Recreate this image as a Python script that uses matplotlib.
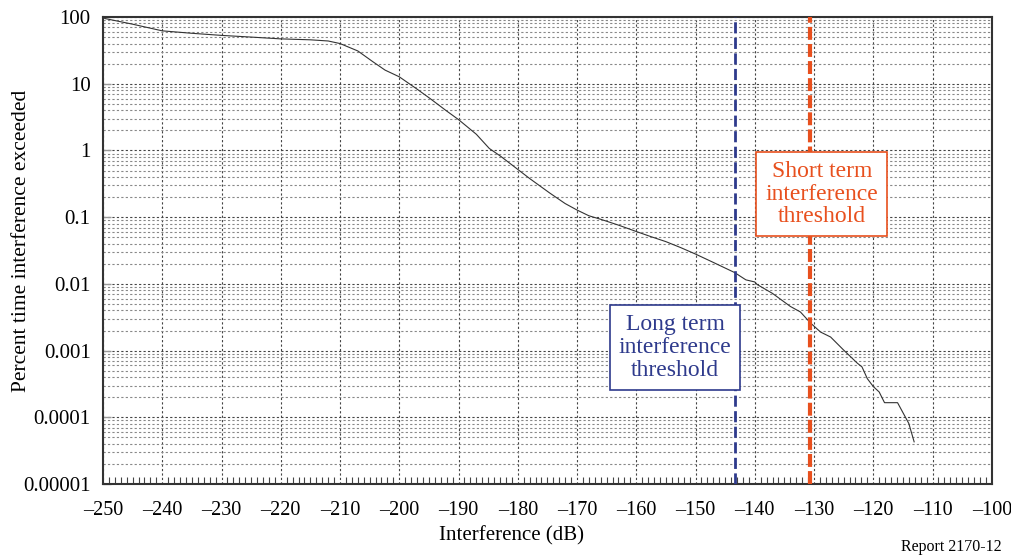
import matplotlib
matplotlib.use("Agg")
import matplotlib.pyplot as plt
from matplotlib.ticker import FixedLocator, FixedFormatter, MultipleLocator, LogLocator

plt.rcParams['font.family'] = ['Liberation Serif', 'DejaVu Serif']

# curve
interference = [-250, -249.7, -245, -240, -235, -230, -225, -220, -215, -212, -210,
                -207, -204.5, -202.4, -200, -197, -194.8, -192, -190, -187, -184.8, -182.9,
                -180, -178, -174.6, -172, -170, -168, -166, -163, -160, -157.5,
                -155, -152.5, -150, -147, -143.4, -141.5, -140, -139.6, -137,
                -134, -132.3, -130.6, -128.9, -127.2, -125, -122.7, -121.9, -121,
                -120, -119, -118.1, -115.9, -114, -113.1]
percent = [100, 95, 78, 62, 57, 53, 50, 47, 45.5, 43.7, 40,
           31, 21.5, 16, 12.7, 8.3, 6.0, 3.9, 2.9, 1.75, 1.07, 0.82,
           0.52, 0.38, 0.23, 0.16, 0.128, 0.105, 0.093, 0.076, 0.061, 0.051,
           0.043, 0.035, 0.028, 0.021, 0.0148, 0.0115, 0.0107, 0.0098, 0.0072,
           0.0046, 0.0038, 0.0026, 0.0019, 0.0016, 0.00102, 0.00065, 0.00057, 0.00038,
           0.00029, 0.00024, 0.000166, 0.000166, 0.000081, 0.000043]

long_term = -143.4
short_term = -130.6

xticks = list(range(-250, -99, 10))
xlabels = ['\u2013' + str(abs(v)) for v in xticks]
yticks = [100, 10, 1, 0.1, 0.01, 0.001, 0.0001, 0.00001]
ylabels = ['100', '10', '1', '0.1', '0.01', '0.001', '0.0001', '0.00001']

blue = '#2E3A8C'
orange = '#E8501E'

fig = plt.figure(figsize=(10.12, 5.59), dpi=100)
ax = fig.add_axes([0.1018, 0.134, 0.8782, 0.8356])

ax.set_yscale('log')
ax.set_xlim(-250, -100)
ax.set_ylim(0.00001, 100)

ax.plot(interference, percent, color='#333333', lw=0.8, zorder=3)

ax.axvline(long_term, color=blue, lw=2.0, ls=(0, (4.0, 1.6)), zorder=4)
ax.axvline(short_term, color=orange, lw=3.0, ls=(0, (3.1, 1.0)), zorder=4)

ax.text(-153.45, 0.00112, 'Long term\ninterference\nthreshold', ha='center', va='center',
        fontsize=17, color=blue, linespacing=1.12, zorder=5,
        bbox=dict(boxstyle='square,pad=0.38', fc='white', ec=blue, lw=1.2))
ax.text(-128.7, 0.222, 'Short term\ninterference\nthreshold', ha='center', va='center',
        fontsize=17, color=orange, linespacing=1.12, zorder=5,
        bbox=dict(boxstyle='square,pad=0.38', fc='white', ec=orange, lw=1.2))

ax.xaxis.set_major_locator(FixedLocator(xticks))
ax.xaxis.set_major_formatter(FixedFormatter(xlabels))
ax.xaxis.set_minor_locator(MultipleLocator(1))
ax.yaxis.set_major_locator(FixedLocator(yticks))
ax.yaxis.set_major_formatter(FixedFormatter(ylabels))
ax.yaxis.set_minor_locator(LogLocator(base=10, subs=range(2, 10), numticks=20))
ax.yaxis.set_minor_formatter(FixedFormatter([]))

ax.grid(which='major', axis='both', ls=(0, (2, 2)), lw=0.8, color='#444444')
ax.grid(which='minor', axis='y', ls=(0, (2, 2)), lw=0.8, color='#888888')

ax.tick_params(axis='x', which='major', direction='in', length=0, labelsize=14.5, pad=12)
ax.tick_params(axis='x', which='minor', direction='in', length=5, width=0.8, color='#444444',
               top=False)
ax.tick_params(axis='y', which='major', direction='in', length=6, width=1, color='#999999',
               labelsize=15, pad=9)
ax.tick_params(axis='y', which='minor', length=0)

for s in ax.spines.values():
    s.set_color('#333333')
    s.set_linewidth(1.5)

ax.set_xlabel('Interference (dB)', fontsize=15)
ax.xaxis.set_label_coords(0.46, -0.09)
ax.set_ylabel('Percent time interference exceeded', fontsize=15.5)
ax.yaxis.set_label_coords(-0.0815, 0.52)

fig.text(0.99, 0.021, 'Report 2170-12', ha='right', va='center', fontsize=11.5)

fig.savefig('out.png', dpi=100)
